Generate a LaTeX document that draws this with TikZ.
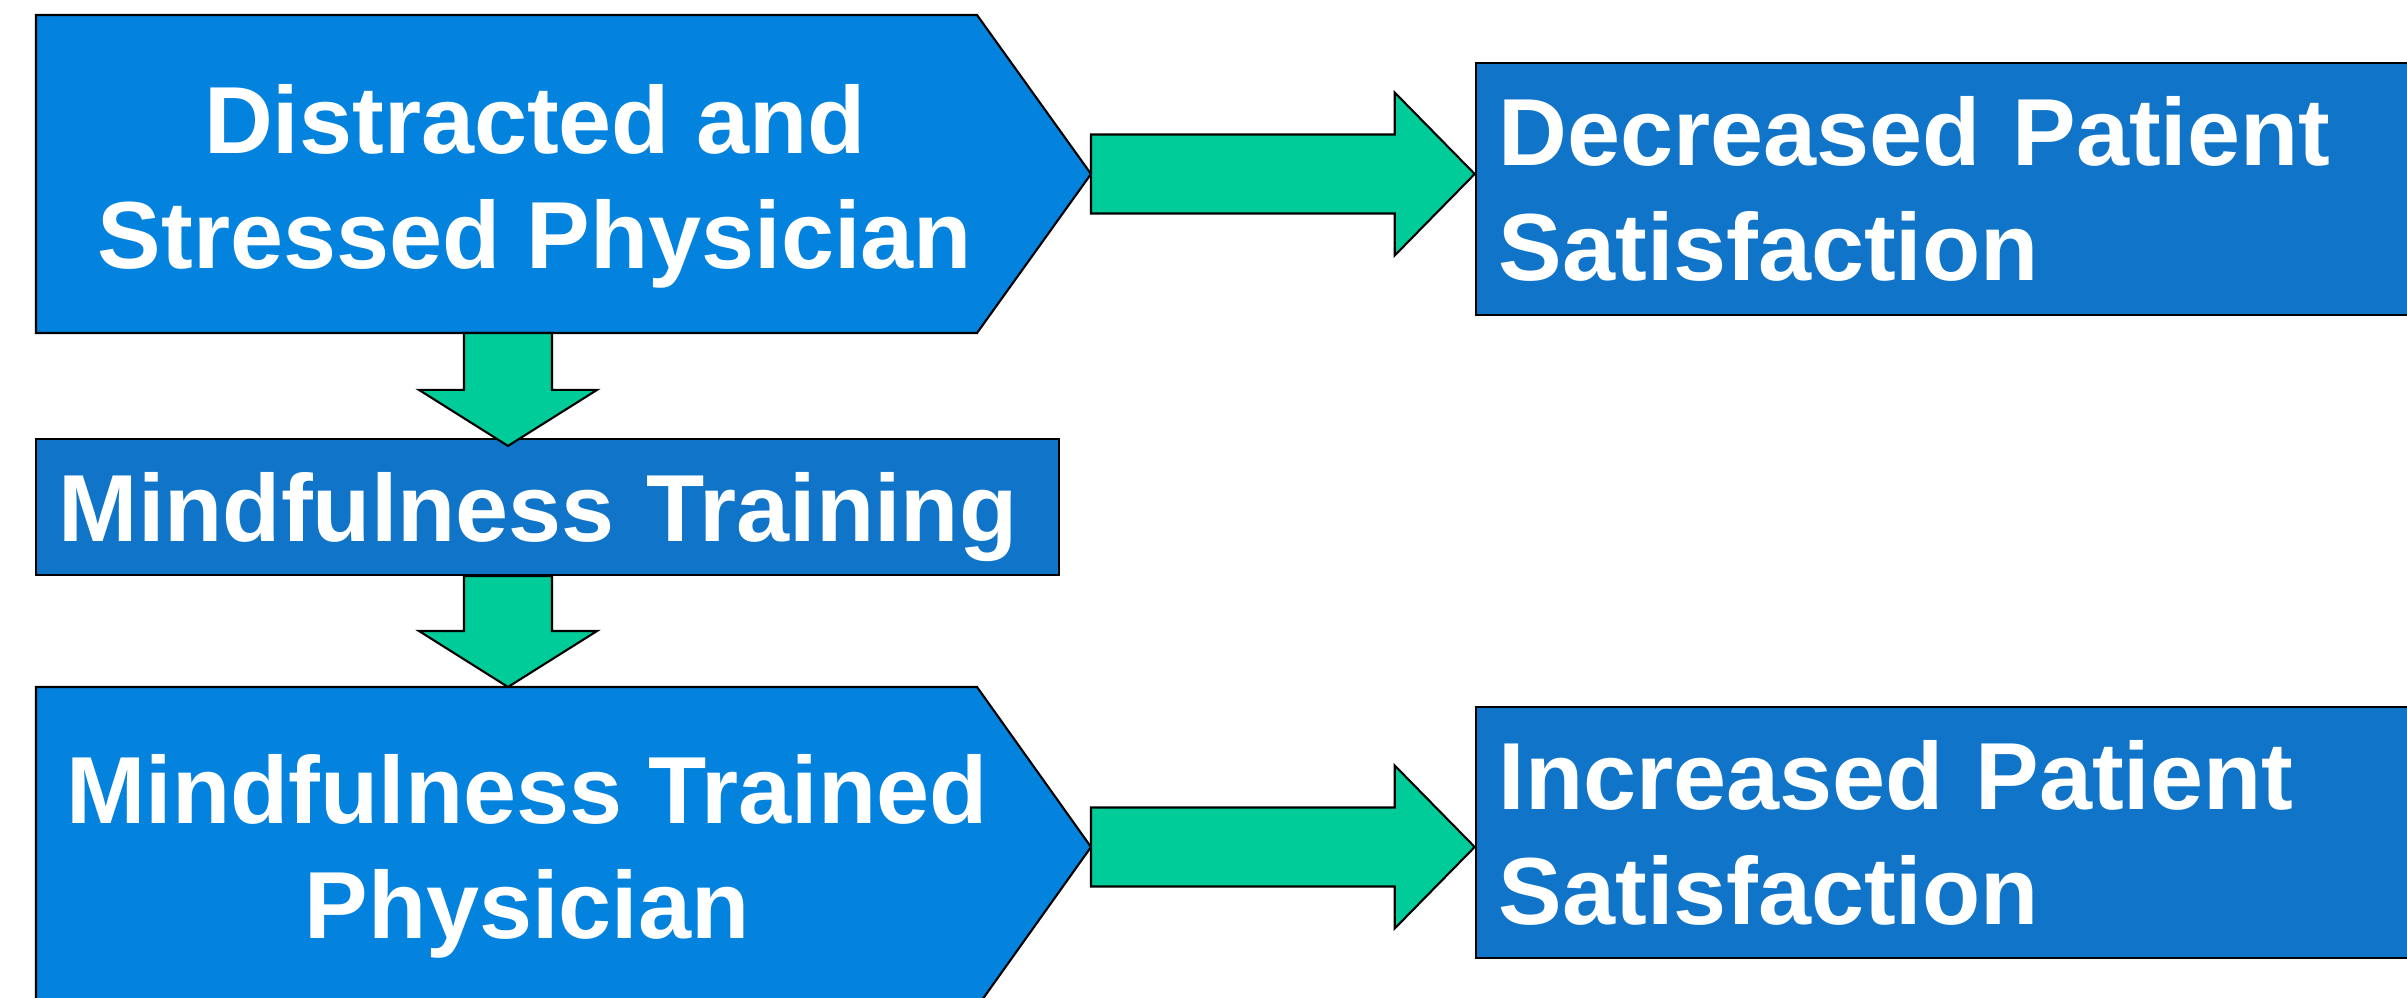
\documentclass[tikz,border=0pt]{standalone}
\usepackage{fontspec}
\setmainfont{Liberation Sans}
\usetikzlibrary{calc,positioning}

\definecolor{pentblue}{RGB}{3,130,222}
\definecolor{boxblue}{RGB}{16,117,201}
\definecolor{flowgreen}{RGB}{0,204,153}

% fat arrows: #1 = start of shaft, #2 = tip
\newcommand\flowright[2]{%
  \draw[flow] (#2) -- ++(-80,-81.5) -- ++(0,42) -- ($(#1)+(0,-39.5)$)
    -- ($(#1)+(0,39.5)$) -- ($(#2)+(-80,39.5)$) -- ++(0,42) -- cycle;}
\newcommand\flowdown[2]{%
  \draw[flow] (#2) -- ++(89,-56) -- ++(-45,0) -- ($(#1)+(44,0)$)
    -- ($(#1)+(-44,0)$) -- ($(#2)+(-44,-56)$) -- ++(-45,0) -- cycle;}

\begin{document}
\begin{tikzpicture}[x=0.01cm, y=-0.01cm, line width=0.6pt,
  pent/.style={draw=black, fill=pentblue},
  rbox/.style={draw=black, fill=boxblue, text=white, inner ysep=0pt,
    align=left, font=\fontsize{27.1}{32.7}\selectfont\bfseries},
  lbl/.style={text=white, align=center, text depth=0pt,
    font=\fontsize{27.1}{32.7}\selectfont\bfseries},
  flow/.style={draw=black, fill=flowgreen, line join=miter}]
\useasboundingbox (0,0) rectangle (2407,998);
% Upper physician
\draw[pent] (36,15) -- (977,15) -- (1091,174) coordinate (dsp-tip)
  -- (977,333) -- (36,333) -- cycle;
\node[lbl] (dsp) at (535,176) {Distracted and\\Stressed Physician};
\coordinate (dsp-foot) at (508,333);
% Training step
\node[rbox, minimum width=10.23cm, minimum height=1.36cm, text width=9.77cm,
  inner xsep=0.23cm, text depth=0pt] (mt) at (547.5,507) {Mindfulness Training};
% Lower physician
\draw[pent] (36,687) -- (977,687) -- (1091,847) coordinate (mtp-tip)
  -- (977,1007) -- (36,1007) -- cycle;
\node[lbl] (mtp) at (527,846.5) {Mindfulness Trained\\Physician};
\coordinate (mtp-head) at (508,687);
% Outcomes
\node[rbox, minimum width=9.44cm, minimum height=2.52cm, text width=8.98cm,
  inner xsep=0.23cm] (dps) at (1948,189) {Decreased Patient\\Satisfaction};
\node[rbox, minimum width=9.44cm, minimum height=2.51cm, text width=8.98cm,
  inner xsep=0.23cm] (ips) at (1948,832.5) {Increased Patient\\Satisfaction};
% Arrow ends
\coordinate (dps-in) at (dps.west |- dsp-tip);
\coordinate (ips-in) at (ips.west |- mtp-tip);
\coordinate (mt-in) at ($(dsp-foot |- mt.north)+(0,8)$);
\coordinate (mt-foot) at (dsp-foot |- mt.south);
% Fat arrows
\foreach \src/\dst in {dsp-tip/dps-in, mtp-tip/ips-in} {
  \flowright{\src}{\dst}
}
\flowdown{dsp-foot}{mt-in}
\flowdown{mt-foot}{mtp-head}
\end{tikzpicture}
\end{document}
